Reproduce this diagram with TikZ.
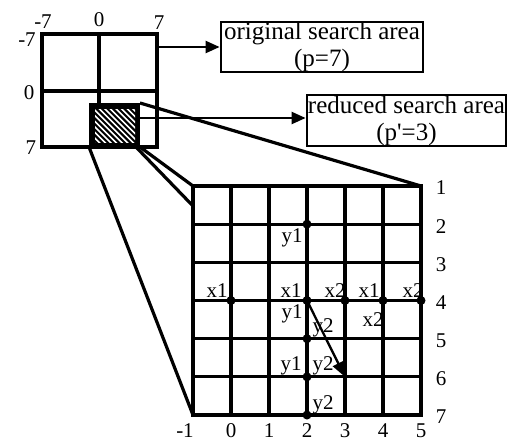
\documentclass[tikz,border=0pt]{standalone}
\usepackage{fontspec}
\setmainfont{Liberation Serif}
\usetikzlibrary{arrows.meta}
\begin{document}
\begin{tikzpicture}[x=1pt,y=-1pt,
  gridline/.style={line width=3.2pt},
  conn/.style={line width=2.3pt,-{Triangle[length=14pt,width=12pt]}},
  funnel/.style={line width=3.2pt},
  lbl/.style={font=\fontsize{21}{23}\selectfont, inner sep=0pt},
  boxnode/.style={draw,line width=2.8pt,font=\fontsize{25}{27}\selectfont,align=center,inner sep=0pt,minimum height=50pt},
  gdot/.style={circle,fill,inner sep=0pt,minimum size=9pt}]
\useasboundingbox (0,0) rectangle (507,442);
% ---- top-left search area
\draw[gridline] (42,34) rectangle (157,147);
\draw[gridline] (99,34) -- (99,103);
\draw[gridline] (42,91) -- (157,91);
\coordinate (hTL) at (89,103);
\coordinate (hTR) at (140,103);
\coordinate (hBL) at (89,147);
\coordinate (hBR) at (140,147);
\fill (hTL) rectangle (hBR);
\begin{scope}
  \clip (95,109) rectangle (135,142);
  \foreach \k in {0,...,20} \draw[white,line width=1.6pt] ({40+\k*5.6},100) -- ({90+\k*5.6},150);
\end{scope}
\node[lbl] (tm7) at (43,22) {-7};
\node[lbl] (t0) at (99,20) {0};
\node[lbl] (t7) at (159,23) {7};
\node[lbl] (lm7) at (27,40) {-7};
\node[lbl] (l0) at (29,93) {0};
\node[lbl] (l7) at (31,148) {7};
% ---- boxes and arrows
\node[boxnode,minimum width=202pt] (box1) at (322,47) {original search area\\(p=7)};
\node[boxnode,minimum width=199pt,minimum height=51pt] (box2) at (406.5,120.5) {reduced search area\\(p\textquotesingle=3)};
\coordinate (a1) at (157,47);
\coordinate (a2) at (140,118);
\draw[conn] (a1) -- (a1 -| box1.west);
\draw[conn] (a2) -- (a2 -| box2.west);
% ---- big grid coordinates
\foreach \c in {-1,...,5} \foreach \r in {1,...,7}
  \coordinate (g\c_\r) at ({193+(\c+1)*38},{186+(\r-1)*38.17});
% funnel lines
\draw[funnel] (hTR) -- (g5_1);
\draw[funnel] (hBL) -- (g-1_7);
\draw[funnel] (hBR) -- (g-1_1);
\coordinate (fA) at (135,146);
\coordinate (fB) at (193,206);
\draw[funnel] (fA) -- (fB);
% grid lines
\foreach \c in {0,...,4} \draw[gridline] (g\c_1) -- (g\c_7);
\foreach \r in {2,...,6} \draw[gridline] (g-1_\r) -- (g5_\r);
\draw[gridline] (g-1_1) rectangle (g5_7);
% axis labels
\foreach \r in {1,...,7} \node[lbl] (ry\r) at ([shift={(20,2)}]g5_\r) {\r};
\node[lbl] (bxm1) at ([shift={(-8,16)}]g-1_7) {-1};
\foreach \c in {0,...,5} \node[lbl] (bx\c) at ([shift={(0,16)}]g\c_7) {\c};
% point labels
\node[lbl] (ly12) at ([shift={(-15,14)}]g2_2) {y1};
\node[lbl] (lx04) at ([shift={(-14,-10)}]g0_4) {x1};
\node[lbl] (lx24) at ([shift={(-16,-10)}]g2_4) {x1};
\node[lbl] (ly24) at ([shift={(-15,13)}]g2_4) {y1};
\node[lbl] (lx34) at ([shift={(-10,-10)}]g3_4) {x2};
\node[lbl] (lx44) at ([shift={(-14,-10)}]g4_4) {x1};
\node[lbl] (lx44b) at ([shift={(-10,19)}]g4_4) {x2};
\node[lbl] (lx54) at ([shift={(-8,-10)}]g5_4) {x2};
\node[lbl] (ly25) at ([shift={(16,-11)}]g2_5) {y2};
\node[lbl] (ly26a) at ([shift={(-16,-11)}]g2_6) {y1};
\node[lbl] (ly26b) at ([shift={(16,-11)}]g2_6) {y2};
\node[lbl] (ly27) at ([shift={(16,-10)}]g2_7) {y2};
% dots
\foreach \p in {2_2,0_4,2_4,3_4,4_4,5_4,2_5,2_6,2_7}
  \node[gdot] (d\p) at (g\p) {};
% motion arrow
\draw[line width=2.3pt,-{Triangle[length=15pt,width=12pt]}] (d2_4.center) -- (g3_6);
\end{tikzpicture}
\end{document}
